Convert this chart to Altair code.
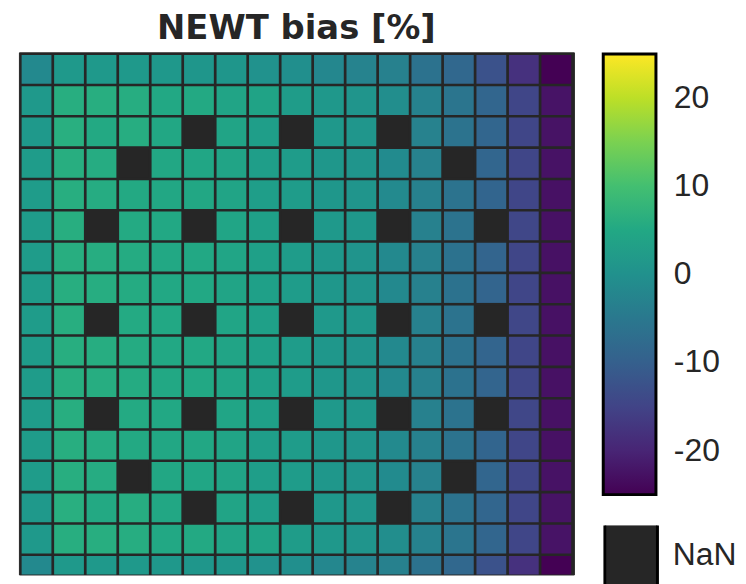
import altair as alt
import pandas as pd

title_text = "NEWT bias [%]"
row_ids = list(range(1, 18))
col_ids = list(range(1, 18))
legend_ticks = [-20, -10, 0, 10, 20]
nan_label = "NaN"

N = None
row01 = [-1.5, 1.8, 1.8, 1.8, 1.7, 1.3, 1.3, 0.3, -0.3, -2.0, -2.8, -3.3, -6.3, -8.3, -12.5, -18.0, -25.0]
row02 = [1.8, 6.3, 6.3, 6.1, 5.0, 5.2, 4.2, 4.0, 2.6, 1.6, 1.0, -0.6, -3.0, -5.6, -8.8, -14.6, -22.6]
row03 = [1.8, 6.4, 5.2, 6.1, 4.8, N, 4.2, 3.0, N, 1.6, 1.2, N, -3.2, -6.0, -8.8, -14.6, -22.7]
row04 = [2.4, 6.3, 5.8, N, 4.8, 4.6, 4.2, 3.0, 2.4, 1.4, 1.0, -1.2, -3.2, N, -8.8, -14.6, -22.8]
row05 = [2.4, 6.2, 5.8, 5.2, 4.8, 4.8, 4.2, 3.0, 2.4, 1.4, 0.9, -1.3, -3.3, -6.1, -8.9, -14.6, -22.9]
row06 = [2.4, 6.2, N, 5.4, 5.0, N, 4.3, 3.4, N, 1.8, 1.4, N, -3.3, -6.0, N, -14.5, -22.9]
row07 = [2.4, 6.3, 6.0, 5.6, 5.0, 5.0, 4.3, 3.4, 2.4, 1.4, 0.8, -1.4, -3.3, -6.2, -9.0, -14.6, -22.9]
row08 = [2.4, 6.3, 6.0, 5.6, 5.0, 5.0, 4.2, 3.4, 2.4, 1.4, 0.8, -1.4, -3.3, -6.2, -9.0, -14.6, -22.9]
row09 = [2.4, 6.2, N, 5.4, 5.0, N, 4.3, 3.4, N, 1.8, 1.4, N, -3.3, -6.0, N, -14.5, -22.9]
row10 = [2.4, 6.3, 6.0, 5.6, 5.0, 5.0, 4.2, 3.4, 2.4, 1.4, 0.8, -1.4, -3.3, -6.2, -9.0, -14.6, -22.9]
row11 = [2.4, 6.3, 6.0, 5.6, 5.0, 5.0, 4.3, 3.4, 2.4, 1.4, 0.8, -1.4, -3.3, -6.2, -9.0, -14.6, -22.9]
row12 = [2.4, 6.2, N, 5.4, 5.0, N, 4.3, 3.4, N, 1.8, 1.4, N, -3.3, -6.0, N, -14.5, -22.9]
row13 = [2.4, 6.2, 5.8, 5.2, 4.8, 4.8, 4.2, 3.0, 2.4, 1.4, 0.9, -1.3, -3.3, -6.1, -8.9, -14.6, -22.9]
row14 = [2.4, 6.3, 5.8, N, 4.8, 4.6, 4.2, 3.0, 2.4, 1.4, 1.0, -1.2, -3.2, N, -8.8, -14.6, -22.8]
row15 = [1.8, 6.4, 5.2, 6.1, 4.8, N, 4.2, 3.0, N, 1.6, 1.2, N, -3.2, -6.0, -8.8, -14.6, -22.7]
row16 = [1.8, 6.3, 6.3, 6.1, 5.0, 5.2, 4.2, 4.0, 2.6, 1.6, 1.0, -0.6, -3.0, -5.6, -8.8, -14.6, -22.6]
row17 = [-1.5, 1.8, 1.8, 1.8, 1.7, 1.3, 1.3, 0.3, -0.3, -2.0, -2.8, -3.3, -6.3, -8.3, -12.5, -18.0, -25.0]

grid_rows = [row01, row02, row03, row04, row05, row06, row07, row08, row09,
             row10, row11, row12, row13, row14, row15, row16, row17]

records = []
for r, vals in zip(row_ids, grid_rows):
    for c, v in zip(col_ids, vals):
        records.append({"row": r, "col": c, "bias": v})
df = pd.DataFrame(records)

FONT = "Liberation Sans"
TFONT = "DejaVu Sans"
DARK = "#262626"

xenc = alt.X("col:O", axis=None, scale=alt.Scale(paddingInner=0.083, paddingOuter=0.083))
yenc = alt.Y("row:O", axis=None,
             scale=alt.Scale(paddingInner=0.083, paddingOuter=0.083, range=[0, 538]))

base = alt.Chart(df)

cells = base.transform_filter("isValid(datum.bias)").mark_rect(clip=True).encode(
    x=xenc,
    y=yenc,
    color=alt.Color(
        "bias:Q",
        scale=alt.Scale(scheme="viridis", domain=[-25, 25]),
        legend=alt.Legend(
            orient="none", legendX=587.5, legendY=1.7, direction="vertical",
            gradientLength=443, gradientThickness=53,
            gradientStrokeColor="black", gradientStrokeWidth=3,
            values=legend_ticks, labelFontSize=32, labelFont=FONT,
            labelColor=DARK, labelOffset=18, padding=0, title=None,
            labelOverlap=False, labelExpr="'' + datum.value",
        ),
    ),
)

nan_cells = base.transform_filter("!isValid(datum.bias)").transform_calculate(
    label="'" + nan_label + "'"
).mark_rect(clip=True).encode(
    x=xenc,
    y=yenc,
    fill=alt.Fill(
        "label:N",
        scale=alt.Scale(domain=[nan_label], range=[DARK]),
        legend=alt.Legend(
            orient="none", legendX=587.5, legendY=475.7,
            symbolType="M-1,-1.2H1V1.2H-1Z", symbolSize=2809,
            symbolStrokeColor="black", symbolStrokeWidth=3, symbolOpacity=1,
            labelFontSize=32, labelFont=FONT, labelColor=DARK, labelOffset=14,
            padding=0, title=None, clipHeight=60,
        ),
    ),
)

chart = alt.layer(cells, nan_cells).properties(
    width=558,
    height=525,
    title=alt.Title(title_text, fontSize=34, font=TFONT, fontWeight="bold",
                    color=DARK, anchor="middle", offset=6),
    padding={"left": 11, "top": 3, "right": 0, "bottom": 0},
).configure_view(fill=DARK, stroke=DARK)

chart.save("out.html", embed_options={"renderer": "svg", "actions": False})
